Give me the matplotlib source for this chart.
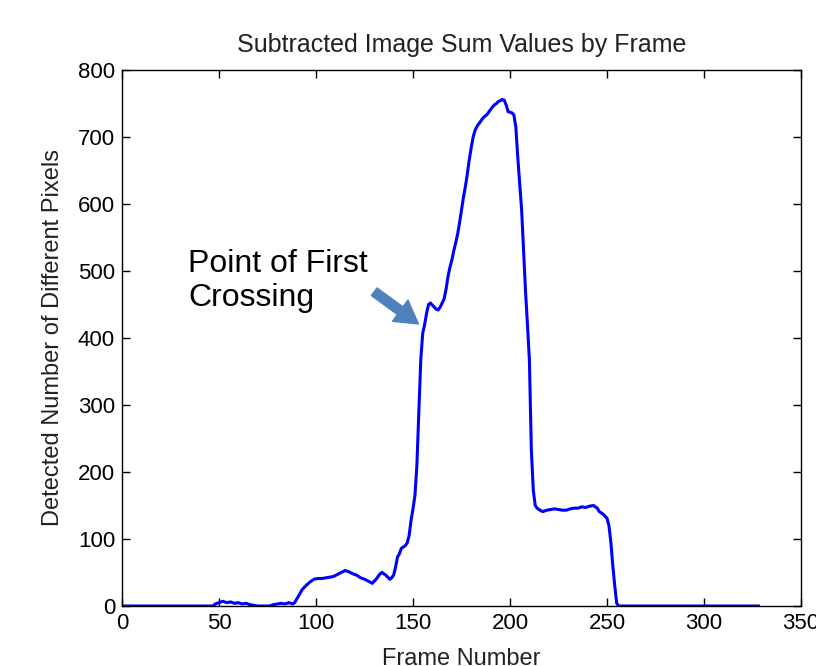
import matplotlib
matplotlib.use("Agg")
import matplotlib.pyplot as plt

frames = [1, 47, 48, 50, 52, 54, 56, 58, 60, 62,
          64, 66, 68, 70, 76, 78, 80, 82, 84, 86,
          88, 89, 91, 93, 95, 97, 99, 101, 103, 105,
          107, 109, 111, 113, 115, 117, 119, 121, 123, 125,
          127, 129, 131, 133, 134, 136, 138, 139, 140, 141,
          142, 143, 144, 146, 147, 148, 149, 150, 151, 152,
          153, 154, 155, 156, 157, 158, 159, 160, 161, 162,
          163, 164, 165, 166, 167, 168, 169, 170, 171, 172,
          173, 174, 175, 176, 177, 178, 179, 180, 181, 182,
          183, 184, 185, 186, 187, 188, 189, 190, 191, 192,
          193, 194, 195, 196, 197, 198, 199, 200, 201, 202,
          203, 204, 205, 206, 207, 208, 209, 210, 211, 212,
          213, 214, 215, 216, 217, 219, 221, 223, 225, 227,
          229, 231, 233, 235, 237, 239, 241, 243, 244, 245,
          246, 247, 248, 249, 250, 251, 252, 253, 254, 255,
          256, 328]

pixels = [0, 0, 3, 5, 7, 5, 6, 4, 5, 3,
          4, 2, 1, 0, 0, 2, 3, 4, 3, 5,
          3, 5, 15, 25, 31, 36, 40, 41, 41, 42,
          43, 44, 47, 50, 53, 51, 48, 46, 42, 40,
          37, 34, 40, 48, 50, 46, 40, 42, 46, 58,
          73, 78, 86, 90, 94, 105, 128, 145, 165, 210,
          290, 367, 407, 420, 437, 450, 452, 449, 446, 443,
          442, 446, 452, 458, 472, 491, 505, 516, 530, 542,
          555, 572, 591, 610, 626, 645, 666, 684, 700, 710,
          716, 720, 724, 728, 731, 733, 737, 741, 745, 748,
          750, 753, 754, 756, 755, 748, 738, 737, 736, 733,
          715, 670, 630, 591, 530, 470, 420, 367, 233, 173,
          150, 146, 144, 142, 141, 143, 144, 145, 144, 143,
          143, 145, 146, 146, 148, 147, 149, 150, 148, 146,
          141, 139, 137, 134, 131, 120, 95, 60, 30, 4,
          0, 0]

xticks = [0, 50, 100, 150, 200, 250, 300, 350]
yticks = [0, 100, 200, 300, 400, 500, 600, 700, 800]

title_text = "Subtracted Image Sum Values by Frame"
xlabel_text = "Frame Number"
ylabel_text = "Detected Number of Different Pixels"
note_text = "Point of First\nCrossing"
arrow_tip = (152.8, 421)
arrow_tail = (130.0, 469)
note_pos = (34, 533)

plt.rcParams['font.family'] = ['Liberation Sans', 'DejaVu Sans']

W, H = 816, 666
fig = plt.figure(figsize=(W / 100, H / 100), dpi=100)
ax = fig.add_axes([122 / W, 1 - 606 / H, (801 - 122) / W, (606 - 70) / H])

ax.plot(frames, pixels, color='#0000ff', linewidth=2.2, solid_joinstyle='miter')

ax.set_xlim(0, 350)
ax.set_ylim(0, 800)
ax.set_xticks(xticks)
ax.set_yticks(yticks)
ax.tick_params(direction='in', length=6, width=1, top=True, right=True,
               labelsize=16, pad=5, colors='black')
for s in ax.spines.values():
    s.set_linewidth(1.0)
    s.set_color('black')

ax.set_title(title_text, fontsize=18, pad=13, color='#222222')
ax.set_xlabel(xlabel_text, fontsize=17, labelpad=10, color='#222222')
ax.set_ylabel(ylabel_text, fontsize=17, labelpad=10, color='#222222')

ax.text(note_pos[0], note_pos[1], note_text, fontsize=23, ha='left', va='top',
        color='black', linespacing=1.2)
ax.annotate('', xy=arrow_tip, xytext=arrow_tail,
            arrowprops=dict(arrowstyle='simple,head_length=0.9,head_width=1.05,tail_width=0.38',
                            color='#4f81bd', mutation_scale=18, shrinkA=0, shrinkB=0))

fig.savefig('out.png', dpi=100)
